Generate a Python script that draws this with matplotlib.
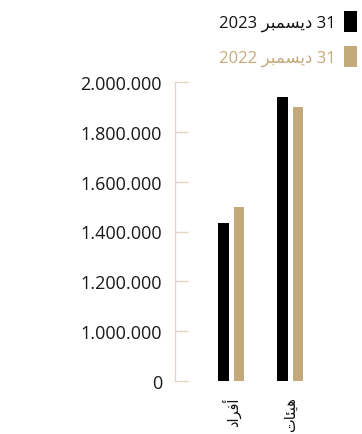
import matplotlib.pyplot as plt
import numpy as np
from matplotlib.patches import Patch

# Arabic strings are stored pre-shaped (presentation forms, visual order)
# because matplotlib does no bidi / joining of its own.
categories = ["\uFEA9\uFE8D\uFEAE\uFED3\uFE83",      # أفراد
              "\uFE95\uFE8E\uFE8C\uFEF4\uFEEB"]      # هيئات
series_labels = ["2023 \uFEAE\uFE92\uFEE4\uFEB4\uFEF3\uFEA9 31",   # 31 ديسمبر 2023
                 "2022 \uFEAE\uFE92\uFEE4\uFEB4\uFEF3\uFEA9 31"]   # 31 ديسمبر 2022
values_2023 = [1434000, 1938000]
values_2022 = [1500000, 1900000]

# y axis is broken: bottom tick stands in for zero
tick_values = [800000, 1000000, 1200000, 1400000, 1600000, 1800000, 2000000]
tick_labels = ["0", "1.000.000", "1.200.000", "1.400.000", "1.600.000",
               "1.800.000", "2.000.000"]

BLACK = "#000000"
TAN = "#c4a97b"
AXIS = "#e2d6c2"
FONT = ["Open Sans", "DejaVu Sans"]

plt.rcParams["font.family"] = FONT

fig = plt.figure(figsize=(3.62, 4.35), dpi=100)
ax = fig.add_axes([175 / 362, 52.7 / 435, 187 / 362, 299.6 / 435])

x = np.arange(len(categories))
w = 0.18
off = 0.13
ax.bar(x - off, values_2023, w, color=BLACK)
ax.bar(x + off, values_2022, w, color=TAN)

ax.set_xlim(-0.956, 2.219)
ax.set_ylim(800000, 2000000)

for s in ("top", "right", "bottom"):
    ax.spines[s].set_visible(False)
ax.spines["left"].set_color(AXIS)
ax.spines["left"].set_linewidth(1.0)

ax.set_yticks(tick_values, tick_labels)
ax.tick_params(axis="y", direction="in", length=9.4, width=1.0, color=AXIS,
               pad=9.4, labelsize=13, labelcolor="#1a1a1a")
ax.set_xticks(x, categories, rotation=90, family=["DejaVu Sans"])
ax.tick_params(axis="x", length=0, pad=11, labelsize=10.5, labelcolor="#111111")

handles = [Patch(facecolor=BLACK), Patch(facecolor=TAN)]
ax.legend(handles, series_labels, loc="upper right",
          bbox_to_anchor=(357 / 362, 1 - 11.7 / 435),
          bbox_transform=fig.transFigure, frameon=False, markerfirst=False,
          handlelength=0.8, handleheight=1.55, handletextpad=0.5,
          labelspacing=0.85, borderpad=0, borderaxespad=0,
          prop={"family": FONT, "size": 12}, labelcolor=["#111111", TAN])

fig.savefig("out.png", dpi=100)
